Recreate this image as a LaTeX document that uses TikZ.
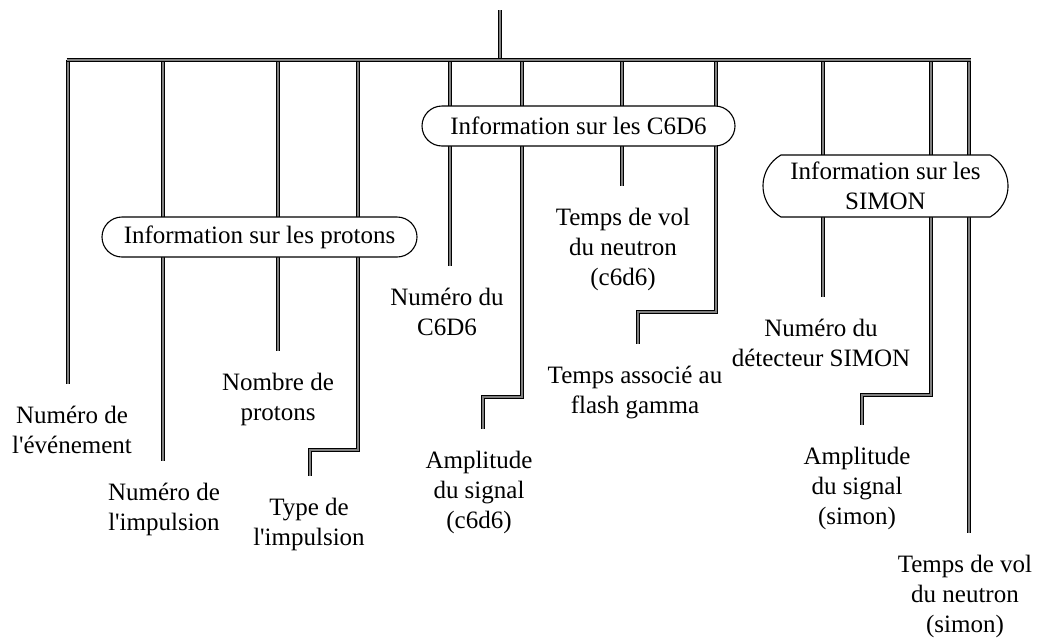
\documentclass[tikz,border=0pt]{standalone}
\usepackage{fontspec}
\setmainfont{Liberation Serif}
\usetikzlibrary{shapes.misc, calc}

\begin{document}
\begin{tikzpicture}[
    x=1pt, y=-1pt,
    % Define styles
    wire/.style={line width=0.85pt, double=black!50, double distance=1.8pt},
    leafwire/.style={wire, shorten >=22pt},
    leaf/.style={anchor=north, align=center, inner sep=0pt, font=\fontsize{25}{30}\selectfont},
    group/.style={rounded rectangle, draw=black, line width=1.1pt, fill=white, align=center, inner sep=0pt, font=\fontsize{25}{30}\selectfont},
    ]
    \useasboundingbox (0,0) rectangle (1038,643);

    % Leaf labels
    \node[leaf] (evt) at (72,406) {Numéro de\\l\textquotesingle événement};
    \node[leaf] (imp) at (164,483) {Numéro de\\l\textquotesingle impulsion};
    \node[leaf] (nbp) at (278,373) {Nombre de\\protons};
    \node[leaf] (typ) at (309,498) {Type de\\l\textquotesingle impulsion};
    \node[leaf] (nc6) at (447,288) {Numéro du\\C6D6};
    \node[leaf] (amc) at (479,451) {Amplitude\\du signal\\(c6d6)};
    \node[leaf] (tvc) at (623,208) {Temps de vol\\du neutron\\(c6d6)};
    \node[leaf] (tfg) at (635,366) {Temps associé au\\flash gamma};
    \node[leaf] (nsi) at (821,319) {Numéro du\\détecteur SIMON};
    \node[leaf] (ams) at (857,447) {Amplitude\\du signal\\(simon)};
    \node[leaf] (tvs) at (965,555) {Temps de vol\\du neutron\\(simon)};

    % Points on the bus
    \coordinate (top) at (500,10);
    \coordinate (bl) at (66.5,60);
    \coordinate (br) at (970.5,60);
    \coordinate (b1) at (68,60);
    \coordinate (b2) at (163,60);
    \coordinate (b3) at (278,60);
    \coordinate (b4) at (358,60);
    \coordinate (b5) at (450,60);
    \coordinate (b6) at (522,60);
    \coordinate (b7) at (622,60);
    \coordinate (b8) at (716,60);
    \coordinate (b9) at (823,60);
    \coordinate (b10) at (931,60);
    \coordinate (b11) at (969,60);

    % Steps
    \coordinate (s4) at (310,450);
    \coordinate (s6) at (483,397);
    \coordinate (s8) at (638,312);
    \coordinate (s10) at (862,395);

    % Wires down to the labels
    \draw[leafwire] (b1) -- (b1 |- evt.north);
    \draw[leafwire] (b2) -- (b2 |- imp.north);
    \draw[leafwire] (b3) -- (b3 |- nbp.north);
    \draw[leafwire] (b4) |- (s4) -- (s4 |- typ.north);
    \draw[leafwire] (b5) -- (b5 |- nc6.north);
    \draw[leafwire] (b6) |- (s6) -- (s6 |- amc.north);
    \draw[leafwire] (b7) -- (b7 |- tvc.north);
    \draw[leafwire] (b8) |- (s8) -- (s8 |- tfg.north);
    \draw[leafwire] (b9) -- (b9 |- nsi.north);
    \draw[leafwire] (b10) |- (s10) -- (s10 |- ams.north);
    \draw[leafwire] (b11) -- (b11 |- tvs.north);

    % Bus and stem
    \draw[wire] (top) -- (top |- bl);
    \draw[wire] (bl) -- (br);

    % Groups
    \node[group, minimum width=315pt, minimum height=40pt] (gpro) at (259.5,237) {Information sur les protons};
    \node[group, minimum width=313pt, minimum height=40pt] (gc6) at (578.5,126) {Information sur les C6D6};
    \node[group, rounded rectangle arc length=120, minimum width=245pt, minimum height=62pt] (gsim) at (885.5,186) {Information sur les\\SIMON};

\end{tikzpicture}
\end{document}
